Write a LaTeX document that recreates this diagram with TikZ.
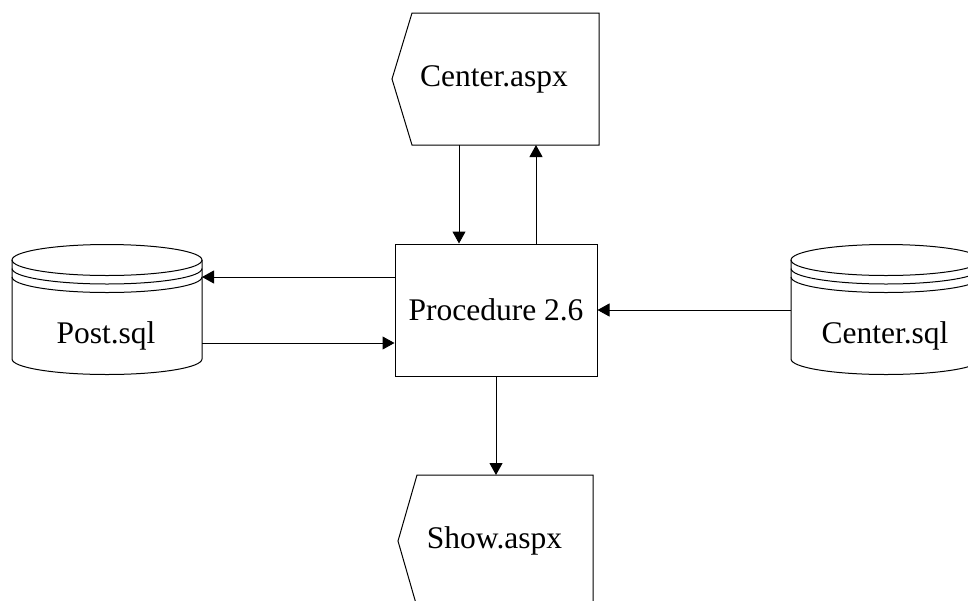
\documentclass[tikz,border=0pt]{standalone}
\usepackage{fontspec}
\setmainfont{Liberation Serif}
\usetikzlibrary{arrows.meta}

\tikzset{
  lbl/.style={font=\fontsize{15.75}{18}\selectfont, inner sep=0pt},
  flow/.style={-{Triangle[length=6pt,width=6.5pt]}},
  body/.style={inner sep=0pt, outer sep=0pt},
  half/.style={start angle=180, end angle=360, x radius=47.5pt, y radius=7.75pt}
}

\begin{document}
\begin{tikzpicture}[x=0.5pt, y=-0.5pt, line width=0.5pt]
                \clip (0,0) rectangle (968,600);
                % data stores
                \foreach \nm/\cx/\txt in {post/107/Post.sql, csql/886/Center.sql} {
                  \draw (\cx-95,260) -- (\cx-95,359) arc[half] -- (\cx+95,260);
                  \draw (\cx,260) ellipse [x radius=47.5pt, y radius=7.75pt];
                  \draw (\cx-95,268.5) arc[half];
                  \draw (\cx-95,277) arc[half];
                  \node [body, minimum width=95pt, minimum height=49.5pt] (\nm) at (\cx,309.5) {};
                  \node [lbl] (\nm-t) at (\cx-1,336) {\txt};
                }
                % process
                \node [draw, lbl, minimum width=101pt, minimum height=66pt] (proc) at (496,310) {Procedure 2.6};
                % screens
                \node [body, minimum width=93.5pt, minimum height=66pt] (caspx) at (505.5,79) {};
                \draw (caspx.north west) -- (caspx.north east) -- (caspx.south east) -- (caspx.south west) -- ([xshift=-10pt]caspx.west) -- cycle;
                \node [lbl] (caspx-t) at (494,79) {Center.aspx};
                \node [body, minimum width=88pt, minimum height=66pt] (show) at (505,541) {};
                \draw (show.north west) -- (show.north east) -- (show.south east) -- (show.south west) -- ([xshift=-9.5pt]show.west) -- cycle;
                \node [lbl] (show-t) at (494.5,541) {Show.aspx};
                % flows
                \draw [flow] ([xshift=-23.25pt]caspx.south) -- ([xshift=-18.5pt]proc.north);
                \draw [flow] ([xshift=20pt]proc.north) -- ([xshift=15.25pt]caspx.south);
                \draw [flow] (proc.south) -- ([xshift=-4.5pt]show.north);
                \draw [flow] ([yshift=16.5pt]proc.west) -- ([yshift=16.25pt]post.east);
                \draw [flow] ([yshift=-16.75pt]post.east) -- ([yshift=-16.5pt]proc.west);
                \draw [flow] (csql.west |- proc.east) -- (proc.east);
\end{tikzpicture}
\end{document}
